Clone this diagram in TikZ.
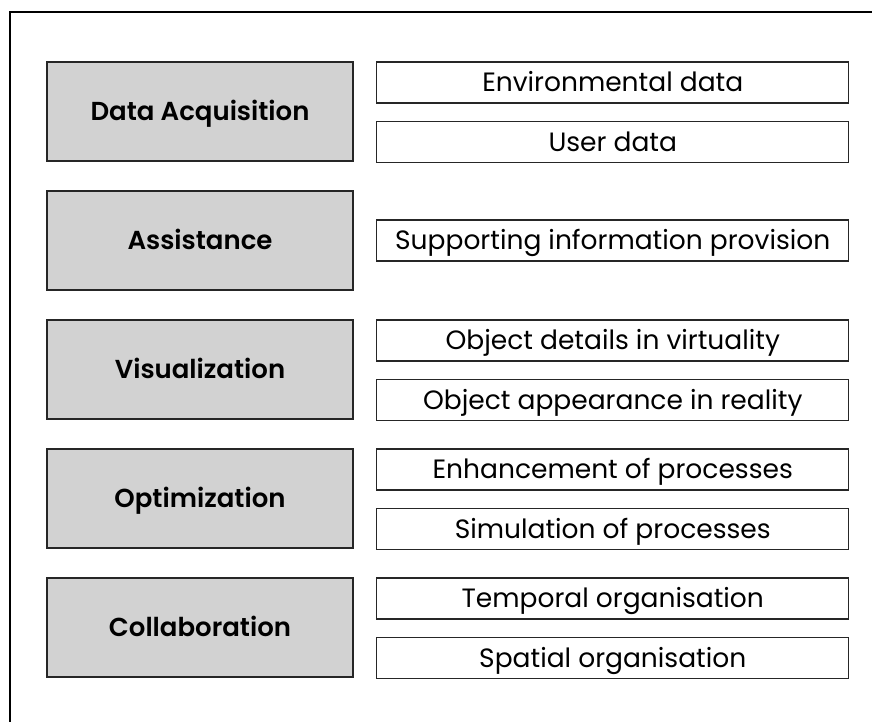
\documentclass[tikz,border=0pt]{standalone}
\usepackage{fontspec}
\setmainfont{Poppins}[BoldFont={Poppins SemiBold}]
\usetikzlibrary{positioning}

\begin{document}
\begin{tikzpicture}[x=1pt,y=-1pt,
  catbox/.style={draw=black!85, line width=1.4pt, fill=\catgray, minimum width=306, minimum height=99,
    inner sep=0pt, text height=18pt, text depth=0pt, font=\fontsize{26}{30}\selectfont\bfseries},
  itembox/.style={draw=black!85, line width=1.4pt, fill=white, minimum width=472, minimum height=41,
    inner sep=0pt, text height=18.5pt, text depth=0pt, font=\fontsize{26.5}{30}\selectfont}]
  \def\catgray{gray!35}

  % page and open frame (top and left edges only)
  \useasboundingbox (0,0) rectangle (872,722);
  \draw[line width=2pt] (10,722) -- (10,12.5) -- (872,12.5);

  % --- ROW 1: Data Acquisition ---
  \node[catbox] (acq) at (200,111.5) {Data Acquisition};
  \node[itembox] (envdata) at (612.75,82.5) {Environmental data};
  \node[itembox, below=17pt of envdata] (userdata) {User data};

  % --- ROW 2: Assistance ---
  \node[catbox] (assist) at (200,240.5) {Assistance};
  \node[itembox] (suppinfo) at (612.75,240.5) {Supporting information provision};

  % --- ROW 3: Visualization ---
  \node[catbox] (visual) at (200,369.5) {Visualization};
  \node[itembox] (objvirt) at (612.75,340.5) {Object details in virtuality};
  \node[itembox, below=17pt of objvirt] (objreal) {Object appearance in reality};

  % --- ROW 4: Optimization ---
  \node[catbox] (optim) at (200,498.5) {Optimization};
  \node[itembox] (enhproc) at (612.75,469.5) {Enhancement of processes};
  \node[itembox, below=17pt of enhproc] (simproc) {Simulation of processes};

  % --- ROW 5: Collaboration ---
  \node[catbox] (collab) at (200,627.5) {Collaboration};
  \node[itembox] (temporg) at (612.75,598.5) {Temporal organisation};
  \node[itembox, below=17pt of temporg] (spatorg) {Spatial organisation};
\end{tikzpicture}
\end{document}
